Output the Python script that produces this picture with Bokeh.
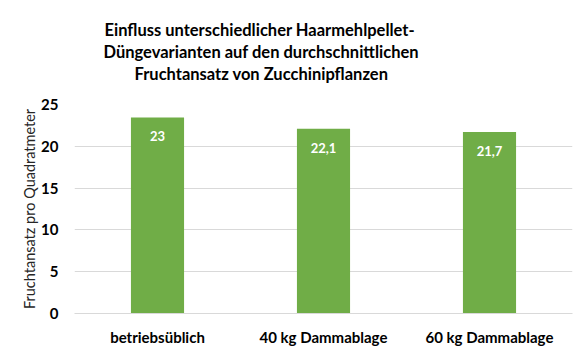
from bokeh.plotting import figure
from bokeh.models import ColumnDataSource, FixedTicker, Title
from bokeh.core.properties import value
from bokeh.embed import file_html
from bokeh.resources import INLINE

categories = ["betriebsüblich", "40 kg Dammablage", "60 kg Dammablage"]
values = [23.45, 22.1, 21.7]
labels = ["23", "22,1", "21,7"]
y_ticks = [0, 5, 10, 15, 20, 25]

title_lines = ["Einfluss unterschiedlicher Haarmehlpellet-",
               "Düngevarianten auf den durchschnittlichen",
               "Fruchtansatz von Zucchinipflanzen"]
title_offsets = [30, 29, 60]
y_label = "Fruchtansatz pro Quadratmeter"

FONT = "Lato"

src = ColumnDataSource(dict(cat=categories, val=values, lab=labels))

p = figure(x_range=categories, y_range=(0, 25), width=588, height=353,
           output_backend="svg", toolbar_location=None,
           min_border_left=74, min_border_right=16, min_border_top=104,
           min_border_bottom=40)
p.outline_line_color = None
p.background_fill_color = "white"
p.border_fill_color = "white"


def mk_title(t, off, standoff, size="16.5px"):
    return Title(text=t, align="left", offset=off, text_font=FONT,
                 text_font_size=size, text_font_style="bold",
                 text_color="#000000", standoff=standoff)


p.title = mk_title(title_lines[0], title_offsets[0], 0)
# empty spacer between title block and plot area
p.add_layout(mk_title(" ", 0, 18, size="1px"), "above")
p.add_layout(mk_title(title_lines[2], title_offsets[2], 0), "above")
p.add_layout(mk_title(title_lines[1], title_offsets[1], 0), "above")

p.vbar(x="cat", top="val", width=0.32, source=src, color="#70AD47", line_color=None)

p.text(x="cat", y="val", text="lab", source=src, text_align="center",
       text_baseline="middle", y_offset=19, text_color="white",
       text_font=value(FONT), text_font_style="bold", text_font_size="13px")

p.yaxis.ticker = FixedTicker(ticks=y_ticks)
p.yaxis.axis_line_color = None
p.yaxis.major_tick_line_color = None
p.yaxis.minor_tick_line_color = None
p.yaxis.major_label_text_font = FONT
p.yaxis.major_label_text_font_style = "bold"
p.yaxis.major_label_text_font_size = "15px"
p.yaxis.major_label_text_color = "#000000"
p.yaxis.major_label_standoff = 10
p.yaxis.axis_label = y_label
p.yaxis.axis_label_text_font = FONT
p.yaxis.axis_label_text_font_style = "normal"
p.yaxis.axis_label_text_font_size = "14.5px"
p.yaxis.axis_label_text_color = "#262626"
p.yaxis.axis_label_standoff = 0

p.xaxis.axis_line_color = "#D9D9D9"
p.xaxis.major_tick_line_color = None
p.xaxis.minor_tick_line_color = None
p.xaxis.major_label_text_font = FONT
p.xaxis.major_label_text_font_style = "bold"
p.xaxis.major_label_text_font_size = "15px"
p.xaxis.major_label_text_color = "#000000"
p.xaxis.major_label_standoff = 8

p.xgrid.grid_line_color = None
p.ygrid.grid_line_color = "#D9D9D9"
p.ygrid.grid_line_width = 1

open("out.html", "w").write(file_html(p, INLINE))
